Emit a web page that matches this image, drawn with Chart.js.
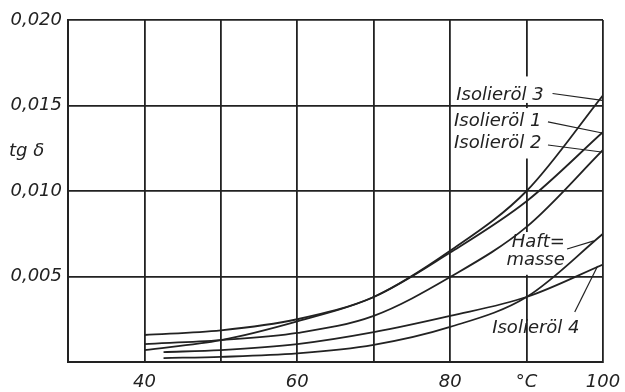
<!DOCTYPE html>
<html lang="de">
<head>
<meta charset="UTF-8">
<title>tg δ – Isolieröle und Haftmasse</title>
<script src="https://cdn.jsdelivr.net/npm/chart.js"></script>
<style>
body{margin:0;background:#fff}
canvas{display:block}
</style>
</head>
<body>
<canvas id="c" width="625" height="392"></canvas>
<script>
/* --- Daten --- */
const temps=[40,50,60,70,80,90,100];
const tempsLow=[42.5,50,60,70,80,90,100];
const oel1=[0.00158,0.00185,0.0025,0.0038,0.0064,0.0094,0.01345];
const oel2=[0.00105,0.00128,0.0017,0.0027,0.00497,0.0079,0.0124];
const oel3=[0.0007,0.00128,0.00238,0.0038,0.0065,0.0100,0.0156];
const oel4=[0.00058,0.0007,0.00105,0.00175,0.0027,0.0038,0.0057];
const haftmasse=[0.00023,0.0003,0.0005,0.001,0.00205,0.0038,0.0075];
const xTickLabels={40:'40',60:'60',80:'80',90:'°C',100:'100'};
const yLabel='tg δ';

const INK='#222';
const FONT='italic 18px "DejaVu Sans"';
const pts=(xs,ys)=>xs.map((x,i)=>({x,y:ys[i]}));
const line=(label,xs,ys)=>({label,data:pts(xs,ys),borderColor:INK,borderWidth:1.8,
    pointRadius:0,fill:false,cubicInterpolationMode:'monotone'});

/* --- Beschriftungen und Hinweislinien (in Datenkoordinaten) --- */
const notes={
  id:'notes',
  beforeDatasetsDraw(chart){
    // Gitterlinie bei 90 °C hinter den Beschriftungen unterbrechen
    const {ctx,scales:{x,y}}=chart;
    const gx=x.getPixelForValue(90);
    ctx.save(); ctx.fillStyle='#fff';
    [[0.0119,0.01485],[0.01515,0.0167],[0.0051,0.0076]].forEach(([a,b])=>{
      const y1=y.getPixelForValue(b),y2=y.getPixelForValue(a);
      ctx.fillRect(gx-3,y1,6,y2-y1);
    });
    ctx.restore();
  },
  afterDraw(chart){
    const {ctx,scales:{x,y}}=chart;
    const P=(a,b)=>[x.getPixelForValue(a),y.getPixelForValue(b)];
    ctx.save();
    ctx.fillStyle=INK; ctx.strokeStyle=INK; ctx.font=FONT; ctx.textBaseline='middle';
    const text=(t,a,b,align)=>{const [px,py]=P(a,b);ctx.textAlign=align||'left';ctx.fillText(t,px,py);};
    const lead=(a1,b1,a2,b2)=>{const [x1,y1]=P(a1,b1),[x2,y2]=P(a2,b2);
      ctx.lineWidth=1.2;ctx.beginPath();ctx.moveTo(x1,y1);ctx.lineTo(x2,y2);ctx.stroke();};

    text('Isolieröl 3',80.8,0.01561); lead(93.4,0.0157,99.9,0.0153);
    text('Isolieröl 1',80.5,0.01409); lead(92.8,0.01404,99.9,0.01339);
    text('Isolieröl 2',80.5,0.01281); lead(92.8,0.01269,99.8,0.01228);
    text('Haft=',95.0,0.00702,'right'); text('masse',95.0,0.00596,'right');
    lead(95.3,0.00661,98.8,0.00708);
    text('Isolieröl 4',85.5,0.00199); lead(96.3,0.00292,99.3,0.00561);

    ctx.textAlign='left';
    ctx.fillText(yLabel,9,151);
    ctx.restore();
  }
};

new Chart(document.getElementById('c'),{
  type:'line',
  data:{datasets:[
    line('Isolieröl 1',temps,oel1),
    line('Isolieröl 2',temps,oel2),
    line('Isolieröl 3',temps,oel3),
    line('Isolieröl 4',tempsLow,oel4),
    line('Haftmasse',tempsLow,haftmasse)
  ]},
  options:{
    responsive:false,animation:false,
    layout:{padding:{top:20,right:22,left:0,bottom:0}},
    plugins:{legend:{display:false},tooltip:{enabled:false}},
    scales:{
      x:{type:'linear',min:30,max:100,
         afterFit:s=>{s.height=30;s.paddingLeft=0;s.paddingRight=0;},
         grid:{color:INK,lineWidth:1.8,drawTicks:false},
         border:{color:INK,width:2},
         ticks:{stepSize:10,padding:10,color:INK,font:{family:'DejaVu Sans',size:18,style:'italic'},
                maxRotation:0,autoSkip:false,callback:v=>xTickLabels[v]??''}},
      y:{min:0,max:0.02,
         afterFit:s=>{s.width=68;s.paddingTop=0;s.paddingBottom=0;},
         grid:{color:INK,lineWidth:1.8,drawTicks:false},
         border:{color:INK,width:2},
         ticks:{stepSize:0.005,padding:6,color:INK,font:{family:'DejaVu Sans',size:18,style:'italic'},
                callback:v=>v<1e-9?'':v.toFixed(3).replace('.',',')}}
    }
  },
  plugins:[notes]
});
</script>
</body>
</html>
